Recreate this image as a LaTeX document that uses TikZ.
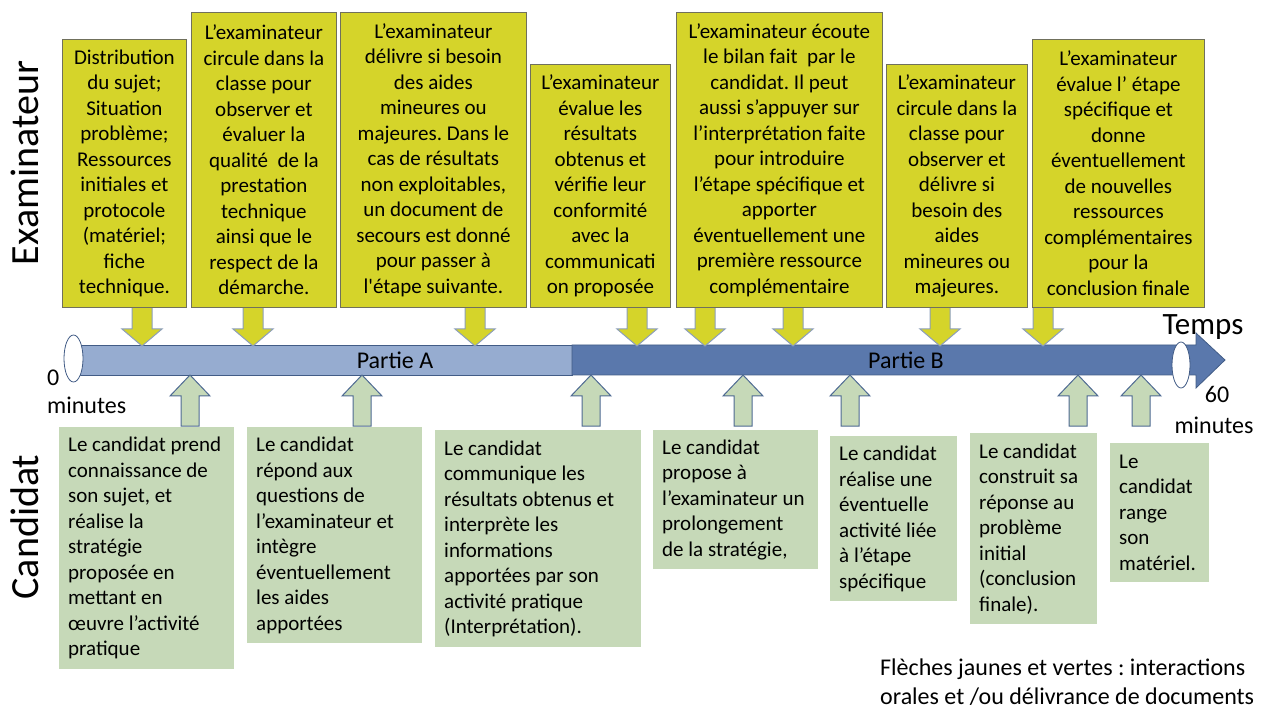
\documentclass[tikz,border=0pt]{standalone}
\usepackage{fontspec}
\setmainfont{Carlito}
\frenchspacing
\definecolor{yfill}{RGB}{213,212,42}
\definecolor{yline}{RGB}{112,112,92}
\definecolor{yedge}{RGB}{140,158,186}
\definecolor{gfill}{RGB}{198,217,184}
\definecolor{gedge}{RGB}{78,106,146}
\definecolor{barA}{RGB}{150,172,208}
\definecolor{barB}{RGB}{90,120,172}
\definecolor{barline}{RGB}{66,92,134}

\begin{document}
\begin{tikzpicture}[x=1pt,y=-1pt,
	txt/.style={font=\fontsize{21}{25.5}\selectfont},
	big/.style={font=\fontsize{24}{28}\selectfont},
	ybox/.style={txt,draw=yline,fill=yfill,line width=.8pt,anchor=north west,align=center,inner sep=2pt},
	gbox/.style={txt,fill=gfill,anchor=north west,align=flush left,inner xsep=9pt,inner ysep=3pt},
	yarrow/.style={draw=yedge,fill=yfill,line width=1pt,line join=miter},
	garrow/.style={draw=gedge,fill=gfill,line width=1pt,line join=miter}]

	\useasboundingbox (0,0) rectangle (1267,711);

	% the time line
	\draw[barline,fill=barA,line width=.8pt] (75,345) rectangle (572,375);
	\draw[barline,fill=barB,line width=.8pt] (572,345) -- (1196,345) -- (1196,333) -- (1225,360)
		-- (1196,388) -- (1196,375) -- (572,375) -- cycle;
	\draw[barline,fill=white,line width=.8pt] (73.5,358.5) ellipse [x radius=9.5,y radius=23.5];
	\draw[barline,fill=white,line width=.8pt] (1181,365) ellipse [x radius=9,y radius=23];
	\node[big] (partA) at (395,360) {Partie A};
	\node[big] (partB) at (906,360) {Partie B};
	\node[font=\fontsize{31}{36}\selectfont] (temps) at (1203,327) {Temps};
	\node[big,anchor=west,inner sep=0pt] (zero) at (47,378) {0};
	\node[big,anchor=west,inner sep=0pt] (zeromin) at (47,405) {minutes};
	\node[big] (sixty) at (1217,394) {60};
	\node[big] (sixtymin) at (1214,425) {minutes};

	% arrows
	\foreach \ax in {142,253,475,637,705,793,940,1043}
		\draw[yarrow] (\ax-10,307) -- (\ax+10,307) -- (\ax+10,329) -- (\ax+20,329) -- (\ax,346)
			-- (\ax-20,329) -- (\ax-10,329) -- cycle;
	\foreach \ax in {190,362,591,743,850,1078,1141}
		\draw[garrow] (\ax,375) -- (\ax+20,396) -- (\ax+9,396) -- (\ax+9,426) -- (\ax-9,426)
			-- (\ax-9,396) -- (\ax-20,396) -- cycle;

	% examinateur
	\node[rotate=90,font=\fontsize{40}{48}\selectfont] (exam) at (25,163) {Examinateur};
	\node[ybox,minimum width=124pt,minimum height=268pt] (ex1) at (62,39)
		{Distribution\\du sujet;\\Situation\\problème;\\Ressources\\initiales et\\protocole\\(matériel;\\fiche\\technique.};
	\node[ybox,minimum width=145pt,minimum height=295pt] (ex2) at (191,12)
		{L’examinateur\\circule dans la\\classe pour\\observer et\\évaluer la\\qualité~ de la\\prestation\\technique\\ainsi que le\\respect de la\\démarche.};
	\node[ybox,minimum width=186pt,minimum height=295pt] (ex3) at (340,12)
		{L’examinateur\\délivre si besoin\\des aides\\mineures ou\\majeures. Dans le\\cas de résultats\\non exploitables,\\un document de\\secours est donné\\pour passer à\\l\textquotesingle étape suivante.};
	\node[ybox,minimum width=140pt,minimum height=243pt] (ex4) at (530,64)
		{L’examinateur\\évalue les\\résultats\\obtenus et\\vérifie leur\\conformité\\avec la\\communicati\\on proposée};
	\node[ybox,minimum width=206pt,minimum height=295pt] (ex5) at (676,12)
		{L’examinateur écoute\\le bilan fait~ par le\\candidat. Il peut\\aussi s’appuyer sur\\l’interprétation faite\\pour introduire\\l’étape spécifique et\\apporter\\éventuellement une\\première ressource\\complémentaire};
	\node[ybox,minimum width=141pt,minimum height=243pt] (ex6) at (886,64)
		{L’examinateur\\circule dans la\\classe pour\\observer et\\délivre si\\besoin des\\aides\\mineures ou\\majeures.};
	\node[ybox,minimum width=172pt,minimum height=268pt] (ex7) at (1032,39)
		{L’examinateur\\évalue l’ étape\\spécifique et\\donne\\éventuellement\\de nouvelles\\ressources\\complémentaires\\pour la\\conclusion finale};

	% candidat
	\node[rotate=90,font=\fontsize{40}{48}\selectfont] (cand) at (25,527) {Candidat};
	\node[gbox,text width=157pt,minimum height=242pt] (ca1) at (59,427)
		{Le candidat prend\\connaissance de\\son sujet, et\\réalise la\\stratégie\\proposée en\\mettant en\\œuvre l’activité\\pratique};
	\node[gbox,text width=157pt,minimum height=216pt] (ca2) at (247,427)
		{Le candidat\\répond aux\\questions de\\l’examinateur et\\intègre\\éventuellement\\les aides\\apportées};
	\node[gbox,text width=188pt,minimum height=217pt] (ca3) at (435,430)
		{Le candidat\\communique les\\résultats obtenus et\\interprète les\\informations\\apportées par son\\activité pratique\\(Interprétation).};
	\node[gbox,text width=147pt,minimum height=139pt] (ca4) at (653,430)
		{Le candidat\\propose à\\l’examinateur un\\prolongement\\de la stratégie,};
	\node[gbox,text width=109pt,minimum height=165pt] (ca5) at (830,436)
		{Le candidat\\réalise une\\éventuelle\\activité liée\\à l’étape\\spécifique};
	\node[gbox,text width=109pt,minimum height=191pt] (ca6) at (970,433)
		{Le candidat\\construit sa\\réponse au\\problème\\initial\\(conclusion\\finale).};
	\node[gbox,text width=81pt,minimum height=139pt] (ca7) at (1110,443)
		{Le\\candidat\\range\\son\\matériel.};

	\node[anchor=west,align=left,inner sep=0pt,font=\fontsize{24}{29}\selectfont] (legend) at (880,682)
		{Flèches jaunes et vertes : interactions\\orales et /ou délivrance de documents};

\end{tikzpicture}
\end{document}
